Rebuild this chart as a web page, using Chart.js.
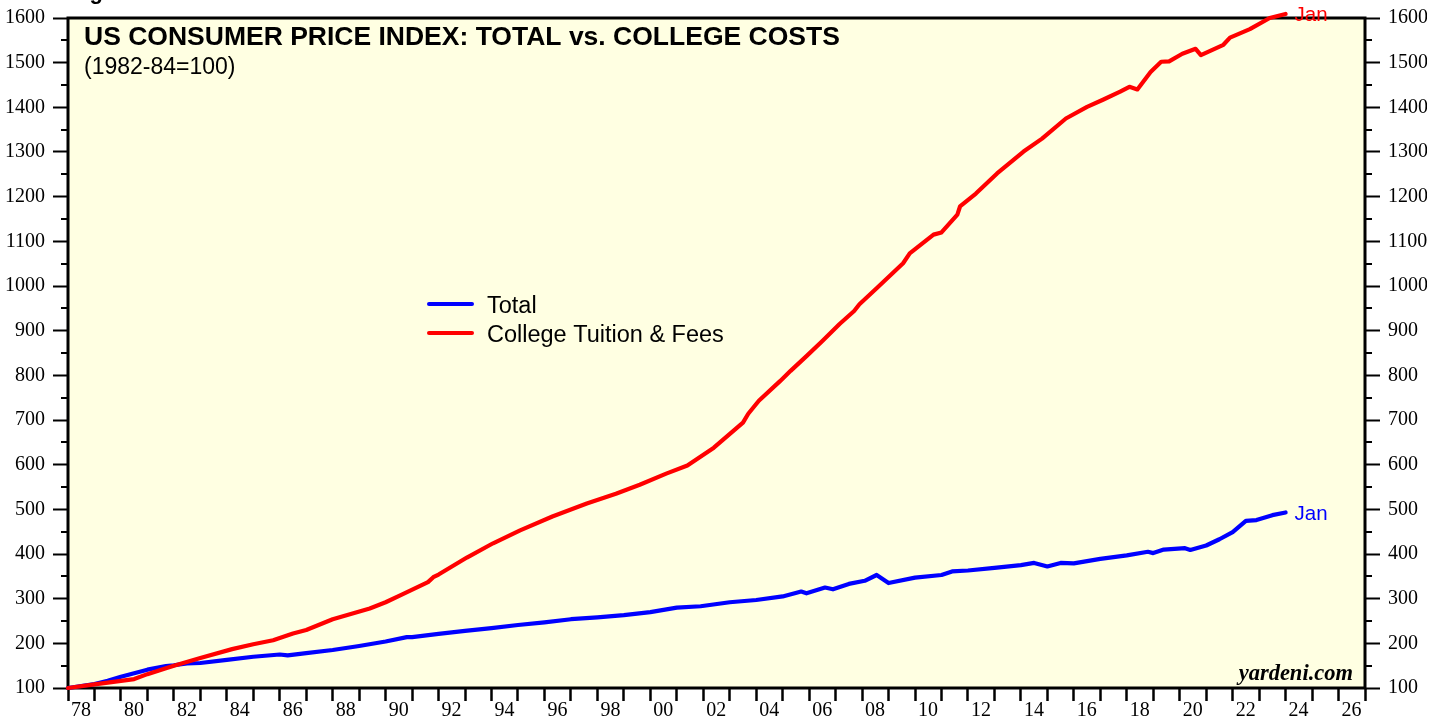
<!DOCTYPE html>
<html>
<head>
<meta charset="utf-8">
<script src="https://cdn.jsdelivr.net/npm/chart.js@4.4.1/dist/chart.umd.min.js"></script>
<style>
  html, body { margin: 0; padding: 0; background: #fff; }
  #wrap { width: 1446px; height: 719px; position: relative; }
</style>
</head>
<body>
<div id="wrap"><canvas id="cpi-chart"></canvas></div>
<script>
// CPI, both series rebased so Jan 1978 = 100 (as drawn)
const totalYears = [1978.0, 1979.0, 1979.5, 1980.0, 1980.5, 1981.0, 1981.7, 1982.0, 1982.5, 1983.0,
    1984.0, 1985.0, 1986.0, 1986.3, 1987.0, 1988.0, 1989.0, 1990.0, 1990.8, 1991.0,
    1992.0, 1993.0, 1994.0, 1995.0, 1996.0, 1997.0, 1998.0, 1999.0, 2000.0, 2001.0,
    2001.9, 2003.0, 2004.0, 2005.0, 2005.7, 2005.9, 2006.6, 2006.9, 2007.5, 2008.1,
    2008.55, 2009.0, 2010.0, 2011.0, 2011.4, 2012.0, 2013.0, 2014.0, 2014.5, 2015.0,
    2015.5, 2016.0, 2017.0, 2018.0, 2018.8, 2019.0, 2019.4, 2020.2, 2020.4, 2021.0,
    2021.5, 2022.0, 2022.5, 2022.9, 2023.5, 2024.0];
const totalValues = [100, 109, 116, 125, 133, 141, 149, 151, 155, 156,
    163, 170, 175, 173, 178, 185, 194, 204, 214, 214,
    221, 228, 234, 241, 247, 254, 258, 263, 270, 280,
    283, 292, 297, 305, 316, 312, 325, 321, 333, 340,
    353, 335, 347, 353, 361, 363, 369, 375, 380, 372,
    380, 379, 389, 397, 405, 402, 410, 413, 409, 419,
    433, 449, 474, 476, 487, 493];

const collegeYears = [1978.0, 1979.0, 1980.0, 1980.5, 1981.0, 1981.7, 1982.0, 1983.0, 1984.2, 1985.0,
    1985.75, 1986.5, 1987.0, 1988.0, 1989.4, 1990.0, 1990.65, 1991.6, 1991.8, 1992.0,
    1993.07, 1994.06, 1995.08, 1996.3, 1997.6, 1998.7, 1999.6, 2000.6, 2001.4, 2002.4,
    2003.5, 2003.7, 2004.1, 2004.9, 2005.3, 2005.9, 2006.5, 2007.15, 2007.7, 2007.9,
    2008.55, 2009.55, 2009.8, 2010.7, 2011.0, 2011.6, 2011.7, 2012.3, 2013.1, 2014.1,
    2014.8, 2015.7, 2016.5, 2017.1, 2017.75, 2018.1, 2018.4, 2018.9, 2019.3, 2019.6,
    2020.1, 2020.6, 2020.8, 2021.65, 2021.9, 2022.65, 2023.4, 2024.0];
const collegeValues = [100, 108, 116, 120, 131, 144, 150, 167, 187, 198,
    207, 222, 230, 254, 278, 292, 310, 337, 348, 354,
    392, 424, 453, 484, 513, 535, 555, 580, 598, 638,
    694, 714, 743, 787, 810, 843, 877, 915, 944, 959,
    995, 1051, 1073, 1115, 1120, 1160, 1178, 1207, 1252, 1301,
    1330, 1375, 1401, 1417, 1435, 1446, 1440, 1479, 1502, 1503,
    1520, 1531, 1517, 1540, 1556, 1575, 1600, 1609];

const seriesLabels = ['Total', 'College Tuition & Fees'];
const seriesColors = ['#0000ff', '#ff0000'];
const endLabel = 'Jan';

const bgColor = 'rgb(255,255,226)';
const sans = '"Liberation Sans", Arial, sans-serif';
const serif = '"Liberation Serif", "Times New Roman", serif';

function toPoints(xs, ys) {
    return xs.map((x, i) => ({ x: x, y: ys[i] }));
}

const decor = {
    id: 'decor',
    beforeDraw(chart) {
        const { ctx, chartArea: a } = chart;
        ctx.save();
        ctx.fillStyle = bgColor;
        ctx.fillRect(a.left, a.top, a.right - a.left, a.bottom - a.top);
        ctx.restore();
    },
    beforeDatasetsDraw(chart) {
        const { ctx, chartArea: a } = chart;
        const y = chart.scales.y;
        ctx.save();
        // minor ticks every 50
        ctx.strokeStyle = '#000';
        ctx.lineWidth = 2;
        for (let v = 150; v < 1600; v += 100) {
            const py = Math.round(y.getPixelForValue(v));
            ctx.beginPath();
            ctx.moveTo(a.left - 7, py); ctx.lineTo(a.left, py);
            ctx.moveTo(a.right, py); ctx.lineTo(a.right + 7, py);
            ctx.stroke();
        }
        ctx.lineWidth = 3;
        ctx.strokeRect(a.left, a.top, a.right - a.left, a.bottom - a.top);
        ctx.restore();
    },
    afterDatasetsDraw(chart) {
        const { ctx, chartArea: a } = chart;
        ctx.save();
        ctx.fillStyle = '#000';
        ctx.textAlign = 'left';
        ctx.textBaseline = 'alphabetic';

        ctx.font = 'bold 22px ' + sans;
        ctx.fillText('Figure 5.', 70, -1);

        ctx.font = 'bold 26.5px ' + sans;
        ctx.fillText('US CONSUMER PRICE INDEX: TOTAL vs. COLLEGE COSTS', 84, 45);
        ctx.font = '23px ' + sans;
        ctx.fillText('(1982-84=100)', 84, 74);

        // legend
        const legendY = [304, 333];
        ctx.font = '23.5px ' + sans;
        ctx.lineCap = 'round';
        seriesLabels.forEach((lab, i) => {
            ctx.strokeStyle = seriesColors[i];
            ctx.lineWidth = 4;
            ctx.beginPath();
            ctx.moveTo(429, legendY[i]); ctx.lineTo(472, legendY[i]);
            ctx.stroke();
            ctx.fillStyle = '#000';
            ctx.fillText(lab, 487, legendY[i] + 8.5);
        });

        // "Jan" end labels
        ctx.font = '20.5px ' + sans;
        chart.data.datasets.forEach((ds, i) => {
            const last = ds.data[ds.data.length - 1];
            const px = chart.scales.x.getPixelForValue(last.x);
            const py = chart.scales.y.getPixelForValue(last.y);
            ctx.fillStyle = ds.borderColor;
            ctx.fillText(endLabel, px + 9, py + 7.5);
        });

        ctx.fillStyle = '#000';
        ctx.font = 'italic bold 22.5px ' + serif;
        ctx.textAlign = 'right';
        ctx.fillText('yardeni.com', a.right - 12, a.bottom - 8);
        ctx.restore();
    }
};

const tickFont = { family: serif, size: 20, lineHeight: 1 };

const yAxis = (position) => ({
    type: 'linear',
    position: position,
    min: 100,
    max: 1600,
    afterFit: scale => { scale.width = 62; },
    ticks: { stepSize: 100, color: '#000', font: tickFont, padding: 8, callback: v => String(v) },
    grid: { drawOnChartArea: false, tickLength: 15, tickWidth: 2, tickColor: '#000' },
    border: { display: false }
});

const ctx = document.getElementById('cpi-chart').getContext('2d');
const chart = new Chart(ctx, {
    type: 'line',
    data: {
        datasets: [
            {
                label: seriesLabels[0],
                data: toPoints(totalYears, totalValues),
                borderColor: seriesColors[0],
                borderWidth: 4.2,
                pointRadius: 0,
                tension: 0,
                clip: false,
                order: 2
            },
            {
                label: seriesLabels[1],
                data: toPoints(collegeYears, collegeValues),
                borderColor: seriesColors[1],
                borderWidth: 4.2,
                pointRadius: 0,
                tension: 0,
                clip: false,
                order: 1
            }
        ]
    },
    options: {
        responsive: true,
        maintainAspectRatio: false,
        animation: false,
        layout: { padding: { top: 16, left: 6, right: 19, bottom: 0 } },
        elements: { line: { borderJoinStyle: 'round', borderCapStyle: 'round' } },
        plugins: {
            legend: { display: false },
            tooltip: { enabled: false }
        },
        scales: {
            x: {
                type: 'linear',
                min: 1978,
                max: 2027,
                afterFit: scale => { scale.height = 31; },
                ticks: {
                    stepSize: 1,
                    autoSkip: false,
                    maxRotation: 0,
                    labelOffset: 13,
                    padding: 0,
                    color: '#000',
                    font: tickFont,
                    callback: v => (v % 2 === 0 && v < 2027) ? String(v % 100).padStart(2, '0') : ''
                },
                grid: { drawOnChartArea: false, tickLength: 13, tickWidth: 2.5, tickColor: '#000' },
                border: { display: false }
            },
            y: yAxis('left'),
            y2: yAxis('right')
        }
    },
    plugins: [decor]
});
</script>
</body>
</html>
